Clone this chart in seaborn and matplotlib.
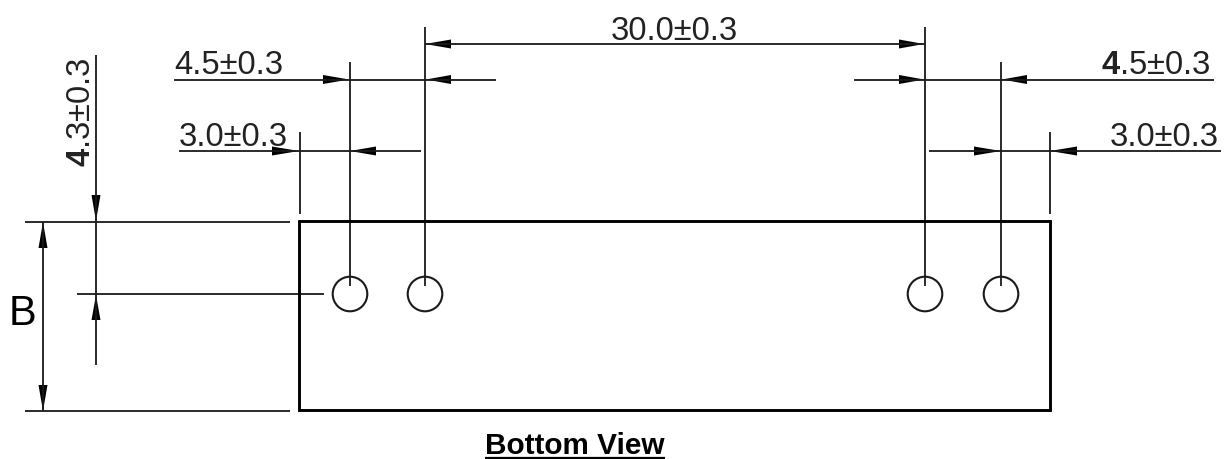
import pandas as pd
import seaborn as sns
import matplotlib.pyplot as plt

sns.set_theme(style="white")
plt.rcParams['font.family'] = ['Liberation Sans', 'DejaVu Sans']
plt.rcParams['mathtext.fontset'] = 'custom'
plt.rcParams['mathtext.bf'] = 'Liberation Sans:bold'

# everything in pixels (y goes down)
outline_x = [299, 1050, 1050, 299, 299]
outline_y = [221, 221, 410, 410, 221]

hole_x = [350, 425, 925, 1001]
hole_y = [294, 294, 294, 294]

# thin lines: x1, y1, x2, y2
dim_lines = [
    (350, 62, 350, 286), (425, 27, 425, 286),
    (924.5, 27, 924.5, 286), (1001, 62, 1001, 286),
    (299.5, 132, 299.5, 214), (1049.5, 132, 1049.5, 214),
    (425, 44, 925, 44),
    (174, 79.5, 496, 79.5), (854, 79.5, 1214, 79.5),
    (179, 151, 421, 151), (929, 151, 1221, 151),
    (25, 222, 290, 222), (25, 411, 290, 411), (77, 294, 324, 294),
    (43, 222, 43, 411), (96, 55, 96, 365),
]

# arrow heads: tip x, tip y, tail x, tail y
arrow_heads = [
    (425, 44, 451, 44), (924, 44, 899, 44),
    (349, 79.5, 323, 79.5), (426, 79.5, 451, 79.5),
    (924, 79.5, 899, 79.5), (1002, 79.5, 1027, 79.5),
    (299, 151, 272, 151), (350, 151, 376, 151),
    (1001, 151, 974, 151), (1050, 151, 1077, 151),
    (96, 221, 96, 195), (96, 295, 96, 320),
    (43, 222, 43, 248), (43, 411, 43, 385),
]

# text, x, y of baseline start
dim_labels = [
    ("30.0±0.3", 611, 39.5), ("4.5±0.3", 174, 74.5), (r"$\mathbf{4}$.5±0.3", 1101, 74.5),
    ("3.0±0.3", 179, 145.5), ("3.0±0.3", 1110, 145.5),
]

lines = pd.DataFrame(
    [(i, x1, y1) for i, (x1, y1, x2, y2) in enumerate(dim_lines)]
    + [(i, x2, y2) for i, (x1, y1, x2, y2) in enumerate(dim_lines)],
    columns=["seg", "x", "y"],
)
holes = pd.DataFrame({"x": hole_x, "y": hole_y})
outline = pd.DataFrame({"x": outline_x, "y": outline_y})

fig, ax = plt.subplots(figsize=(12.24, 4.59), dpi=100)
ax.set_position([0, 0, 1, 1])

sns.lineplot(data=lines, x="x", y="y", units="seg", estimator=None, sort=False,
             color="#1a1a1a", linewidth=1.3, solid_capstyle="butt", ax=ax)
sns.lineplot(data=outline, x="x", y="y", estimator=None, sort=False,
             color="black", linewidth=2.1, solid_joinstyle="miter", ax=ax)
sns.scatterplot(data=holes, x="x", y="y", s=620, facecolor="none",
                edgecolor="#1a1a1a", linewidth=1.5, ax=ax)

# arrow heads
for tx, ty, bx, by in arrow_heads:
    if ty == by:
        ax.fill([tx, bx, bx], [ty, by - 4.5, by + 4.5], color="black", lw=0)
    else:
        ax.fill([tx, bx - 4.5, bx + 4.5], [ty, by, by], color="black", lw=0)

for label, x, y in dim_labels:
    ax.text(x, y, label, fontsize=23.6, color="#222222", ha="left", va="baseline")

ax.text(90, 167, r"$\mathbf{4}$.3±0.3", fontsize=23.6, color="#222222", rotation=90,
        ha="left", va="baseline", rotation_mode="anchor")
ax.text(23, 325, "B", fontsize=30, color="black", ha="center", va="baseline")
ax.text(575, 454, "Bottom View", fontsize=21.4, fontweight="bold", color="black",
        ha="center", va="baseline")
ax.plot([485, 665], [457.5, 457.5], color="black", linewidth=1.6, solid_capstyle="butt")

ax.set_xlim(0, 1224)
ax.set_ylim(459, 0)
ax.axis("off")

fig.savefig("out.png", dpi=100, facecolor="white")
